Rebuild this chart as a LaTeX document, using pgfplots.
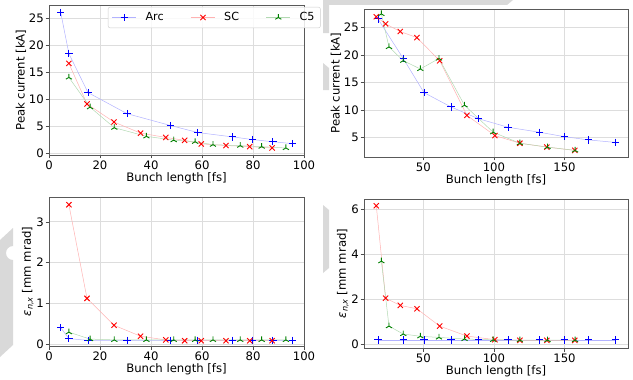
\documentclass[border=0pt]{standalone}
\usepackage{fontspec}
\setmainfont{DejaVu Sans}
\usepackage{pgfplots}
\pgfplotsset{compat=1.18}
\usetikzlibrary{plotmarks}
\definecolor{gridc}{HTML}{DDDDDD}
\definecolor{decor}{HTML}{D9D9D9}
\definecolor{mgreen}{HTML}{008000}
\pgfplotsset{
  mpl/.style={
    scale only axis, anchor=south west,
    axis line style={black!65, line width=0.6pt},
    grid=major, major grid style={gridc, line width=0.7pt},
    tick style={black!70, line width=0.6pt},
    tick align=outside, major tick length=3.5bp, tick pos=left,
    ticklabel style={font=\fontsize{11.7}{13}\selectfont},
    label style={font=\fontsize{11.7}{13}\selectfont},
    /pgf/number format/assume math mode=true,
    xlabel={Bunch length [fs]},
    xticklabel style={inner ysep=2bp},
    yticklabel style={inner xsep=1.5bp},
    xlabel style={inner ysep=1bp},
    ylabel style={inner ysep=1bp},
    legend image code/.code={\draw[mark repeat=2,mark phase=2] plot coordinates {(0bp,0bp)(12bp,0bp)(24bp,0bp)};},
  },
  arc/.style={color=blue!30, line width=0.5pt, mark=+, mark size=3.7bp, mark options={blue, line width=0.9pt}},
  sc/.style={color=red!30, line width=0.5pt, mark=x, mark size=3.7bp, mark options={red, line width=0.9pt}},
  cf/.style={color=mgreen!30, line width=0.5pt, mark=Mercedes star, mark size=3.5bp, mark options={mgreen, line width=0.9pt}},
}
\begin{document}
\begin{tikzpicture}[x=1bp,y=1bp]
\path[use as bounding box] (0,0) rectangle (633,379);
% background decorations
\fill[decor] (323,379) -- (513,379) -- (507,374) -- (329,374) -- (329,346) -- (323,346) -- cycle;
\fill[decor] (323,316) -- (329,311) -- (329,289) -- (323,289) -- cycle;
\fill[decor] (323,174) -- (329,169) -- (329,111) -- (323,106) -- cycle;
\fill[decor] (0,139) -- (13,151) -- (13,133) arc[start angle=90, end angle=270, radius=7] -- (13,34) -- (0,22) -- cycle;

% top left
\begin{axis}[mpl, at={(49bp,224bp)}, width=255bp, height=150bp,
  xmin=0, xmax=100, ymin=-0.25, ymax=27.5,
  xtick={0,20,40,60,80,100}, ytick={0,5,10,15,20,25},
  ylabel={Peak current [kA]},
  legend columns=3,
  legend style={at={(0.231,0.987)}, anchor=north west, draw=black!20, rounded corners=2bp,
    fill=white, fill opacity=0.85, text opacity=1, draw opacity=1,
    font=\fontsize{11.2}{13}\selectfont, inner xsep=4bp, inner ysep=3.5bp,
    /tikz/every odd column/.append style={column sep=7bp},
    /tikz/every even column/.append style={column sep=25bp}},
]
\addplot[arc] coordinates {(4.6,26.1)(7.8,18.5)(15.3,11.3)(30.6,7.4)(47.7,5.2)(58.4,3.9)(72.0,3.1)(79.9,2.6)(87.8,2.2)(95.6,1.85)};
\addlegendentry{Arc}
\addplot[sc] coordinates {(7.8,16.7)(14.9,9.2)(25.5,5.85)(35.9,3.8)(45.8,3.0)(53.2,2.46)(59.7,1.8)(69.4,1.5)(78.7,1.3)(87.5,1.05)};
\addlegendentry{SC}
\addplot[cf] coordinates {(7.8,14.1)(16.1,8.6)(25.6,4.8)(38.2,3.2)(48.9,2.5)(57.3,2.2)(64.3,1.66)(75.0,1.48)(83.4,1.3)(92.9,1.05)};
\addlegendentry{C5}
\end{axis}

% top right
\begin{axis}[mpl, at={(364bp,222bp)}, width=264bp, height=148bp,
  xmin=8, xmax=195, ymin=1.5, ymax=28.4,
  xtick={50,100,150}, ytick={5,10,15,20,25},
  ylabel={Peak current [kA]},
]
\addplot[arc] coordinates {(17.9,26.6)(35.8,19.4)(50.5,13.2)(69.6,10.6)(89.2,8.45)(110.1,6.9)(132.3,6.0)(149.8,5.2)(167.2,4.6)(186.1,4.15)};
\addplot[sc] coordinates {(16.7,27.0)(23.3,25.7)(33.7,24.3)(45.5,23.2)(61.6,19.0)(80.9,9.06)(100.7,5.4)(118.4,4.0)(137.5,3.3)(157.3,2.7)};
\addplot[cf] coordinates {(20.3,27.5)(25.7,21.5)(35.8,19.0)(47.9,17.5)(61.1,19.4)(79.2,10.9)(99.5,6.0)(118.4,4.0)(138,3.3)(157.5,2.7)};
\end{axis}

% bottom left
\begin{axis}[mpl, at={(49bp,33bp)}, width=255bp, height=149bp,
  xmin=0, xmax=100, ymin=-0.05, ymax=3.61,
  xtick={0,20,40,60,80,100}, ytick={0,1,2,3},
  ylabel={\textit{ε}\textsubscript{\textit{n,x}} [mm mrad]},
]
\addplot[arc] coordinates {(4.6,0.40)(7.8,0.13)(15.3,0.09)(30.6,0.09)(47.7,0.09)(58.4,0.09)(72.0,0.09)(79.9,0.09)(87.8,0.09)(95.6,0.09)};
\addplot[sc] coordinates {(7.8,3.42)(14.9,1.12)(25.5,0.46)(35.9,0.19)(45.8,0.1)(53.2,0.08)(59.7,0.08)(69.4,0.08)(78.7,0.08)(87.5,0.08)};
\addplot[cf] coordinates {(7.8,0.29)(16.1,0.12)(25.6,0.1)(38.2,0.1)(48.9,0.1)(57.3,0.1)(64.3,0.1)(75.0,0.1)(83.4,0.1)(92.9,0.1)};
\end{axis}

% bottom right
\begin{axis}[mpl, at={(364bp,31bp)}, width=264bp, height=149bp,
  xmin=8, xmax=195, ymin=-0.15, ymax=6.46,
  xtick={50,100,150}, ytick={0,2,4,6},
  ylabel={\textit{ε}\textsubscript{\textit{n,x}} [mm mrad]},
]
\addplot[arc] coordinates {(17.9,0.21)(35.8,0.21)(50.5,0.21)(69.6,0.21)(89.2,0.21)(110.1,0.21)(132.3,0.21)(149.8,0.21)(167.2,0.21)(186.1,0.21)};
\addplot[sc] coordinates {(16.7,6.16)(23.3,2.06)(33.7,1.74)(45.5,1.59)(61.6,0.82)(80.9,0.38)(100.7,0.22)(118.4,0.19)(137.5,0.19)(157.3,0.19)};
\addplot[cf] coordinates {(20.3,3.7)(25.7,0.82)(35.8,0.47)(47.9,0.37)(61.1,0.32)(79.2,0.25)(99.5,0.21)(118.4,0.2)(138,0.2)(157.5,0.2)};
\end{axis}
\end{tikzpicture}
\end{document}
